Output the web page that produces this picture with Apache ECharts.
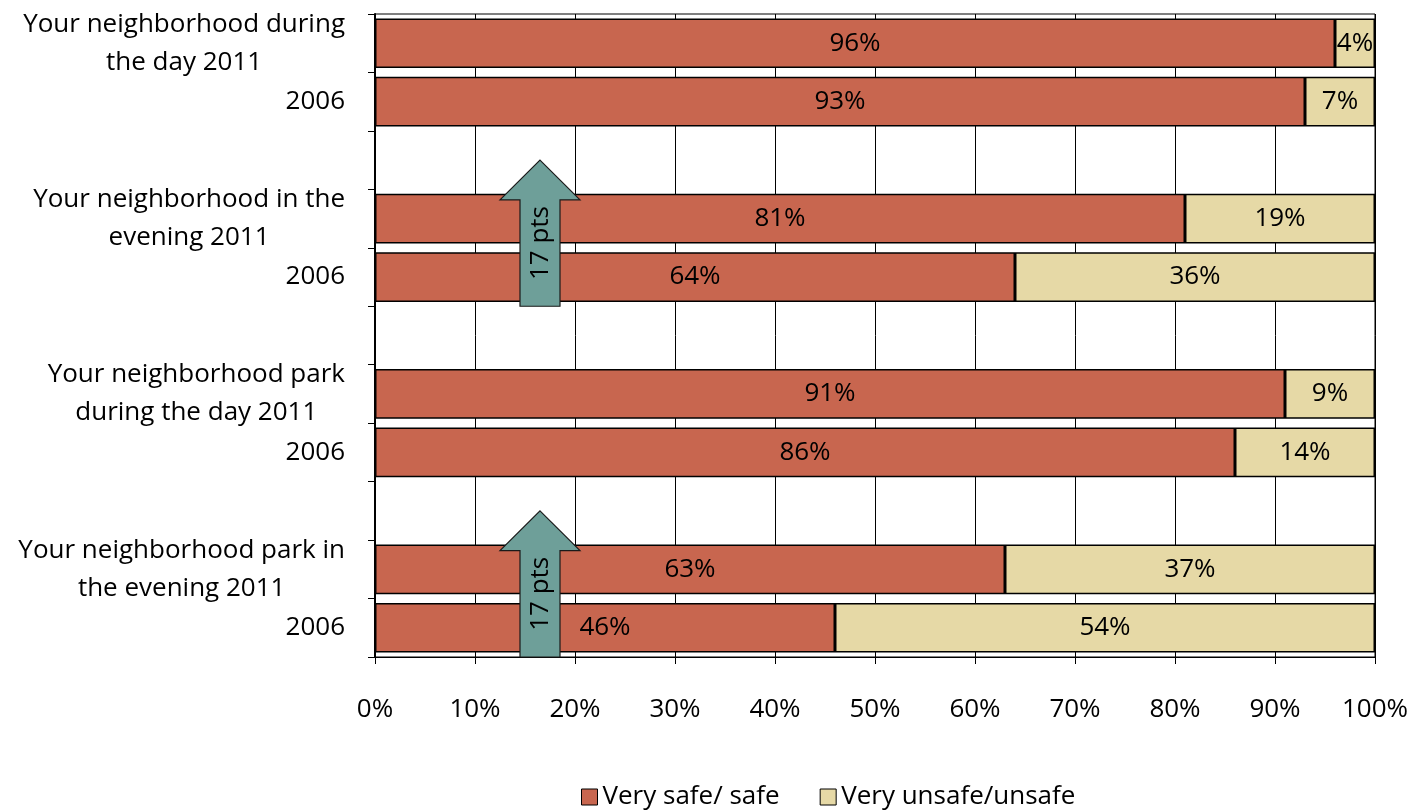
<!DOCTYPE html>
<html>
<head>
<meta charset="utf-8">
<script src="https://cdn.jsdelivr.net/npm/echarts@6/dist/echarts.min.js"></script>
<style>
html,body{margin:0;padding:0;background:#fff;}
#chart{width:1418px;height:812px;}
</style>
</head>
<body>
<div id="chart"></div>
<script>
const categories = ['day2011','day2006','gapA','eve2011','eve2006','gapB','parkDay2011','parkDay2006','gapC','parkEve2011','parkEve2006'];
const categoryLabels = [
  ['Your neighborhood during','the day 2011'],
  ['2006'],
  [''],
  ['Your neighborhood in the','evening 2011'],
  ['2006'],
  [''],
  ['Your neighborhood park','during the day 2011'],
  ['2006'],
  [''],
  ['Your neighborhood park in','the evening 2011'],
  ['2006']
];
const safeValues   = [96, 93, null, 81, 64, null, 91, 86, null, 63, 46];
const unsafeValues = [4, 7, null, 19, 36, null, 9, 14, null, 37, 54];
const seriesNames = ['Very safe/ safe', 'Very unsafe/unsafe'];
const xTicks = [0,10,20,30,40,50,60,70,80,90,100];
// arrows: [from category, to category, label]
const arrows = [
  ['eve2006', 'gapA', '17 pts'],
  ['parkEve2006', 'gapC', '17 pts']
];

const FONT = '"Open Sans"';
const FS = 26;
const ARROW_X = 16.5, SHAFT_HALF = 2, HEAD_HALF = 4;

const chart = echarts.init(document.getElementById('chart'));
chart.setOption({
  animation: false,
  textStyle: {fontFamily: FONT},
  grid: {left: 375, right: 43, top: 14, bottom: 155, show: true, borderColor: '#000', borderWidth: 1, containLabel: false},
  legend: {
    top: 779, left: 576,
    data: seriesNames,
    icon: 'rect', itemWidth: 16, itemHeight: 16, itemGap: 40, itemTextGap: 9,
    itemStyle: {borderColor: '#000', borderWidth: 1},
    textStyle: {fontFamily: FONT, fontSize: FS, color: '#000'}
  },
  xAxis: {
    type: 'value', min: 0, max: 100, interval: 10,
    axisLine: {show: true, lineStyle: {color: '#000', width: 1}},
    axisTick: {show: true, length: 7, lineStyle: {color: '#000'}},
    splitLine: {show: true, lineStyle: {color: '#000', width: 1}},
    axisLabel: {margin: 40, fontFamily: FONT, fontSize: FS, color: '#000',
      formatter: v => xTicks.includes(v) ? v + '%' : ''}
  },
  yAxis: {
    type: 'category', inverse: true, data: categories,
    axisLine: {show: true, lineStyle: {color: '#000', width: 2}},
    axisTick: {show: true, length: 7, lineStyle: {color: '#000'}},
    splitLine: {show: false},
    axisLabel: {
      margin: 30, fontFamily: FONT, fontSize: FS, color: '#000', lineHeight: 38,
      formatter: (v, i) => {
        const lines = categoryLabels[i];
        if (lines.length === 1) return lines[0];
        return lines.map(l => '{c|' + l + '}').join('\n');
      },
      rich: {c: {align: 'center', fontFamily: FONT, fontSize: FS, color: '#000', lineHeight: 38}}
    }
  },
  series: [
    {
      name: seriesNames[0], type: 'bar', stack: 'total', data: safeValues,
      barWidth: '85%',
      itemStyle: {color: '#C8664F', borderColor: '#000', borderWidth: 1.5},
      label: {show: true, position: 'inside', formatter: p => p.value + '%', color: '#000', fontFamily: FONT, fontSize: FS}
    },
    {
      name: seriesNames[1], type: 'bar', stack: 'total', data: unsafeValues,
      barWidth: '85%',
      itemStyle: {color: '#E6D9A6', borderColor: '#000', borderWidth: 1.5},
      label: {show: true, position: 'inside', formatter: p => p.value + '%', color: '#000', fontFamily: FONT, fontSize: FS}
    },
    {
      type: 'custom', z: 10, silent: true,
      data: arrows.map(a => [ARROW_X, a[0], a[1], a[2]]),
      encode: {x: 0, y: 1},
      renderItem: (params, api) => {
        const d = arrows[params.dataIndex];
        const fromIdx = categories.indexOf(d[0]);
        const toIdx = categories.indexOf(d[1]);
        const band = api.size([0, 1])[1];
        const pFrom = api.coord([ARROW_X, fromIdx]);
        const pTo = api.coord([ARROW_X, toIdx]);
        const cx = pFrom[0];
        const yBottom = pFrom[1] + band / 2;
        const yTip = pTo[1];
        const yBase = yTip + band * 0.68;
        const hs = api.size([SHAFT_HALF, 0])[0];
        const hh = api.size([HEAD_HALF, 0])[0];
        const pts = [
          [cx, yTip], [cx + hh, yBase], [cx + hs, yBase], [cx + hs, yBottom],
          [cx - hs, yBottom], [cx - hs, yBase], [cx - hh, yBase]
        ];
        return {
          type: 'group',
          children: [
            {type: 'polygon', shape: {points: pts}, style: {fill: '#6E9F99', stroke: '#1a1a1a', lineWidth: 1.2}},
            {type: 'text', x: cx + 1, y: (yBase + yBottom) / 2 - 10, rotation: Math.PI / 2,
              style: {text: d[2], align: 'center', verticalAlign: 'middle', fill: '#000', font: FS + 'px ' + FONT}}
          ]
        };
      }
    }
  ]
});
</script>
</body>
</html>
